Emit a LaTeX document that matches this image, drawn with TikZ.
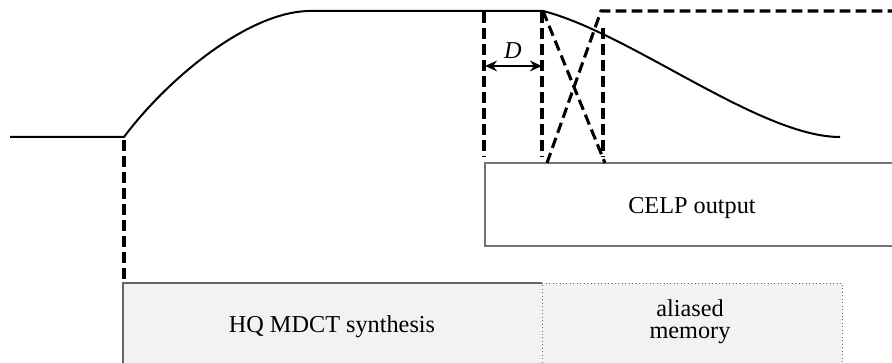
\documentclass[tikz,border=0pt]{standalone}
\usepackage{fontspec}
\setmainfont{Liberation Serif}
\usetikzlibrary{arrows.meta}
\begin{document}
\begin{tikzpicture}[x=0.75pt,y=-0.75pt,
  curve/.style={line width=1.5pt,black},
  dashline/.style={line width=2.3pt,black,dash pattern=on 8pt off 4pt},
  lbl/.style={font=\fontsize{18.2}{16.5}\selectfont,align=center}]
\useasboundingbox (0,0) rectangle (892,363);
% boxes
\path[draw=black!55,line width=1pt,fill=white] (895,163) -- (485,163) -- (485,246) -- (895,246);
\path[fill=black!5] (123,283) rectangle (542,366);
\draw[black!60,line width=0.8pt] (123,366) -- (123,283) -- (542,283);
\path[fill=black!5] (542,283) rectangle (842,366);
\draw[black!60,line width=0.6pt,dotted] (542,366) -- (542,283) -- (842,283) -- (842,366);
\node[lbl,anchor=base] (celp) at (692,214) {CELP output};
\node[lbl,anchor=base] (hq) at (332,332) {HQ MDCT synthesis};
\node[lbl,anchor=base] (al) at (690,316) {aliased};
\node[lbl,anchor=base] (mem) at (690,338) {memory};
% coordinates
\coordinate (s0) at (10,137);
\coordinate (s1) at (124,137);
\coordinate (p0) at (308,11);
\coordinate (p1) at (543,11);
\coordinate (e0) at (840,137);
% window curve
\draw[curve,line join=round] (s0) -- (s1) .. controls (165,82) and (245,13) .. (p0) -- (p1)
  .. controls (630,33) and (760,137) .. (e0);
% dashed lines
\draw[dashline] (124,140) -- (124,283);
\draw[dashline] (484,12) -- (484,157);
\draw[dashline] (542,12) -- (542,157);
\draw[dashline] (603,28) -- (603,157);
\draw[dashline] (p1) -- (605,163);
\draw[dashline] (547,163) -- (601,11) -- (892,11);
% D arrow
\coordinate (da) at (485,66);
\coordinate (db) at (542,66);
\draw[line width=1.6pt,{Stealth[length=9pt,width=8pt]}-{Stealth[length=9pt,width=8pt]}] (da) -- (db);
\node[lbl,anchor=base,font=\fontsize{18.2}{20}\selectfont\itshape] (D) at (513,59) {D};
\end{tikzpicture}
\end{document}
